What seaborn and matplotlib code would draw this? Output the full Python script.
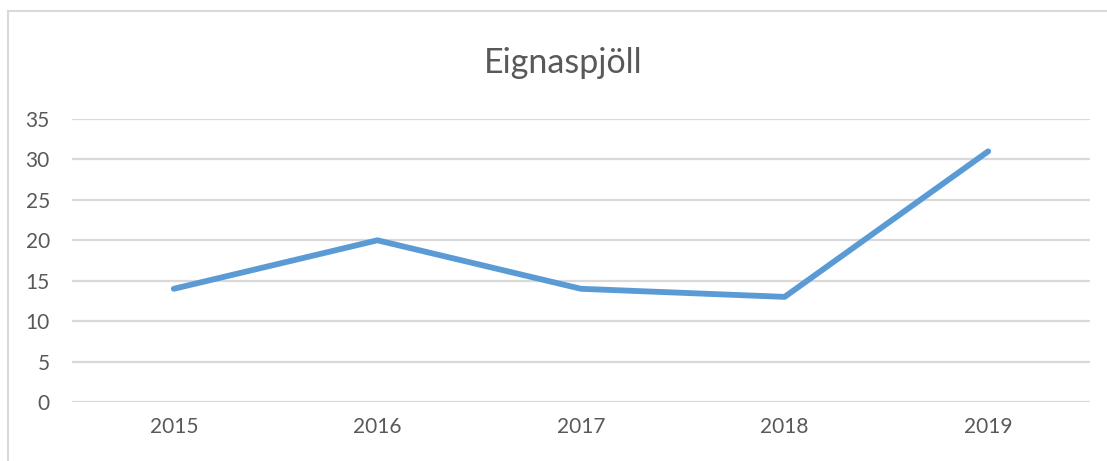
import matplotlib
matplotlib.use("Agg")
import matplotlib.pyplot as plt
import pandas as pd
import seaborn as sns
from matplotlib.patches import Rectangle

years = ["2015", "2016", "2017", "2018", "2019"]
counts = [14, 20, 14, 13, 31]
title = "Eignaspjöll"

TEXT = "#595959"
GRID = "#D9D9D9"
LINE = "#5B9BD5"


def main():
    sns.set_style("white")
    plt.rcParams["font.family"] = ["Lato", "DejaVu Sans"]

    df = pd.DataFrame({"year": years, "count": counts})

    fig = plt.figure(figsize=(11.07, 4.61), dpi=100)
    ax = fig.add_axes([72 / 1107, 1 - 402 / 461, (1090 - 72) / 1107, (402 - 119) / 461])

    sns.lineplot(data=df, x="year", y="count", ax=ax, color=LINE, linewidth=4.2,
                 sort=False, solid_capstyle="round")

    ax.set_xlim(-0.5, len(years) - 0.5)
    ax.set_ylim(0, 35)
    ax.set_yticks(range(0, 36, 5))
    ax.yaxis.grid(True, color=GRID, linewidth=1.6)
    ax.set_axisbelow(True)
    for s in ax.spines.values():
        s.set_visible(False)
    ax.tick_params(axis="both", length=0, labelsize=15, colors=TEXT)
    ax.tick_params(axis="y", pad=16)
    ax.tick_params(axis="x", pad=11)
    ax.set_xlabel("")
    ax.set_ylabel("")

    fig.text(563 / 1107, 1 - 63 / 461, title, ha="center", va="center",
             fontsize=24.5, color=TEXT)

    # chart frame, cropped on the right and bottom like the screenshot
    fig.patches.append(Rectangle((8 / 1107, -0.1), 1.2, 1 - 11 / 461 + 0.1,
                                 transform=fig.transFigure, fill=False,
                                 edgecolor=GRID, linewidth=1.5))

    fig.savefig("out.png", dpi=100)
    plt.close(fig)


if __name__ == "__main__":
    main()
